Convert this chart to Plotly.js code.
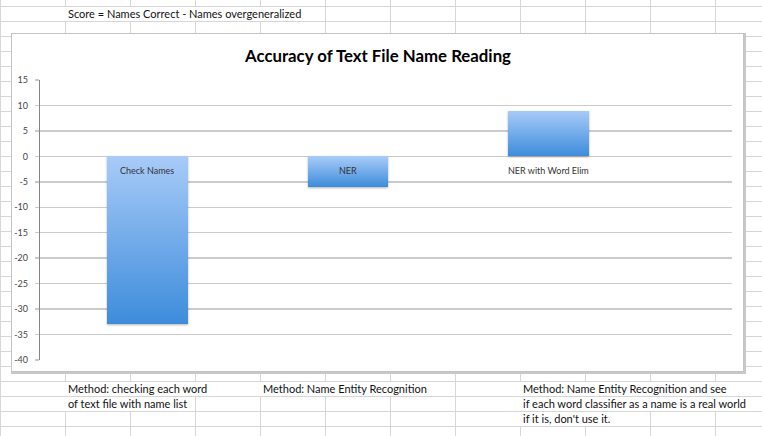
<!DOCTYPE html>
<html>
<head>
<meta charset="utf-8">
<script src="https://cdn.plot.ly/plotly-3.0.1.min.js"></script>
<style>
  html, body { margin: 0; padding: 0; background: #fff; }
  #sheet { position: relative; width: 762px; height: 436px; overflow: hidden; background: #fff; font-family: Lato, "Liberation Sans", sans-serif; }
  .hl { position: absolute; left: 0; width: 762px; height: 1px; background: #d6d6d6; }
  .vl { position: absolute; top: 0; width: 1px; height: 436px; background: #d6d6d6; }
  .cell { position: absolute; height: 14px; line-height: 14px; font-size: 11px; color: #111; background: #fff; padding-left: 3px; white-space: nowrap; box-sizing: border-box; }
  #box { position: absolute; left: 11px; top: 33px; width: 733px; height: 339px; background: #fff; border: 1px solid #c4c4c4; box-shadow: 1px 1px 0 1px #c8c8c8; box-sizing: border-box; }
  #chart { position: absolute; left: 0; top: 0; width: 762px; height: 436px; }
</style>
</head>
<body>
<div id="sheet">
  <div id="grid"></div>
  <div class="cell" style="left:65px; top:7px; width:259px;">Score = Names Correct - Names overgeneralized</div>
  <div class="cell" style="left:65px; top:382px; width:194px;">Method: checking each word</div>
  <div class="cell" style="left:65px; top:397px; width:129px;">of text file with name list</div>
  <div class="cell" style="left:260px; top:382px; width:194px;">Method: Name Entity Recognition</div>
  <div class="cell" style="left:520px; top:382px; width:242px;">Method: Name Entity Recognition and see</div>
  <div class="cell" style="left:520px; top:397px; width:242px;">if each word classifier as a name is a real world</div>
  <div class="cell" style="left:520px; top:412px; width:129px;">if it is, don't use it.</div>
  <div id="box"></div>
  <div id="chart"></div>
</div>
<script>
// ---- data ----
var categories = ["Check Names", "NER", "NER with Word Elim"];
var scores = [-33, -6, 9];
var yTickValues = [15, 10, 5, 0, -5, -10, -15, -20, -25, -30, -35, -40];
var chartTitle = "Accuracy of Text File Name Reading";

// ---- spreadsheet background grid (decoration) ----
(function () {
  var g = document.getElementById('grid');
  for (var k = 0; k <= 28; k++) {
    var d = document.createElement('div');
    d.className = 'hl';
    d.style.top = (6 + 15 * k) + 'px';
    g.appendChild(d);
  }
  for (var c = 0; c <= 11; c++) {
    var v = document.createElement('div');
    v.className = 'vl';
    v.style.left = (65 * c) + 'px';
    g.appendChild(v);
  }
})();

var xIdx = categories.map(function (_, i) { return i; });

var trace = {
  type: 'bar',
  x: xIdx,
  y: scores,
  width: 0.4,
  marker: { color: '#6fa8ea', line: { width: 0 } },
  hoverinfo: 'skip'
};

var annotations = categories.map(function (name, i) {
  return {
    x: xIdx[i], y: 0, xref: 'x', yref: 'y',
    text: name, showarrow: false,
    yanchor: 'top', yshift: -7,
    font: { family: 'Lato, sans-serif', size: 9, color: '#333' }
  };
});

var layout = {
  width: 762, height: 436,
  margin: { l: 40, r: 30, t: 80, b: 76 },
  paper_bgcolor: 'rgba(0,0,0,0)',
  plot_bgcolor: 'rgba(0,0,0,0)',
  showlegend: false,
  title: {
    text: chartTitle,
    x: 378 / 762, xref: 'container', xanchor: 'center',
    y: 1 - 56 / 436, yref: 'container', yanchor: 'middle',
    font: { family: 'Lato, sans-serif', size: 16.8, color: '#000', weight: 'bold' }
  },
  xaxis: {
    range: [-0.536, 2.915],
    showticklabels: false, showgrid: false, zeroline: false, showline: false, ticks: ''
  },
  yaxis: {
    range: [-40, 15],
    tickvals: yTickValues,
    ticktext: yTickValues.map(String),
    showgrid: true, gridcolor: '#cbcbcb', gridwidth: 1.5,
    zeroline: false,
    showline: true, linecolor: '#858585', linewidth: 1.2,
    ticks: 'outside', ticklen: 4, tickcolor: '#cbcbcb', tickwidth: 1.5,
    ticklabelstandoff: 5,
    tickfont: { family: 'Lato, sans-serif', size: 9, color: '#444' }
  },
  annotations: annotations,
  bargap: 0
};

Plotly.newPlot('chart', [trace], layout, { staticPlot: true, displayModeBar: false }).then(function (gd) {
  var svg = gd.querySelector('svg.main-svg');
  var ns = 'http://www.w3.org/2000/svg';
  var defs = svg.querySelector('defs') || svg.insertBefore(document.createElementNS(ns, 'defs'), svg.firstChild);
  var grad = document.createElementNS(ns, 'linearGradient');
  grad.setAttribute('id', 'barGrad');
  grad.setAttribute('x1', '0'); grad.setAttribute('y1', '0');
  grad.setAttribute('x2', '0'); grad.setAttribute('y2', '1');
  [['0%', '#a8cbf8'], ['100%', '#3d8cdb']].forEach(function (s) {
    var st = document.createElementNS(ns, 'stop');
    st.setAttribute('offset', s[0]);
    st.setAttribute('stop-color', s[1]);
    grad.appendChild(st);
  });
  defs.appendChild(grad);
  var filt = document.createElementNS(ns, 'filter');
  filt.setAttribute('id', 'barShadow');
  filt.setAttribute('x', '-10%'); filt.setAttribute('y', '-10%');
  filt.setAttribute('width', '120%'); filt.setAttribute('height', '130%');
  var ds = document.createElementNS(ns, 'feDropShadow');
  ds.setAttribute('dx', '0'); ds.setAttribute('dy', '1');
  ds.setAttribute('stdDeviation', '0.8');
  ds.setAttribute('flood-color', '#000'); ds.setAttribute('flood-opacity', '0.3');
  filt.appendChild(ds);
  defs.appendChild(filt);
  gd.querySelectorAll('.bars .point path').forEach(function (p) {
    p.style.fill = 'url(#barGrad)';
    p.setAttribute('filter', 'url(#barShadow)');
  });
});
</script>
</body>
</html>
